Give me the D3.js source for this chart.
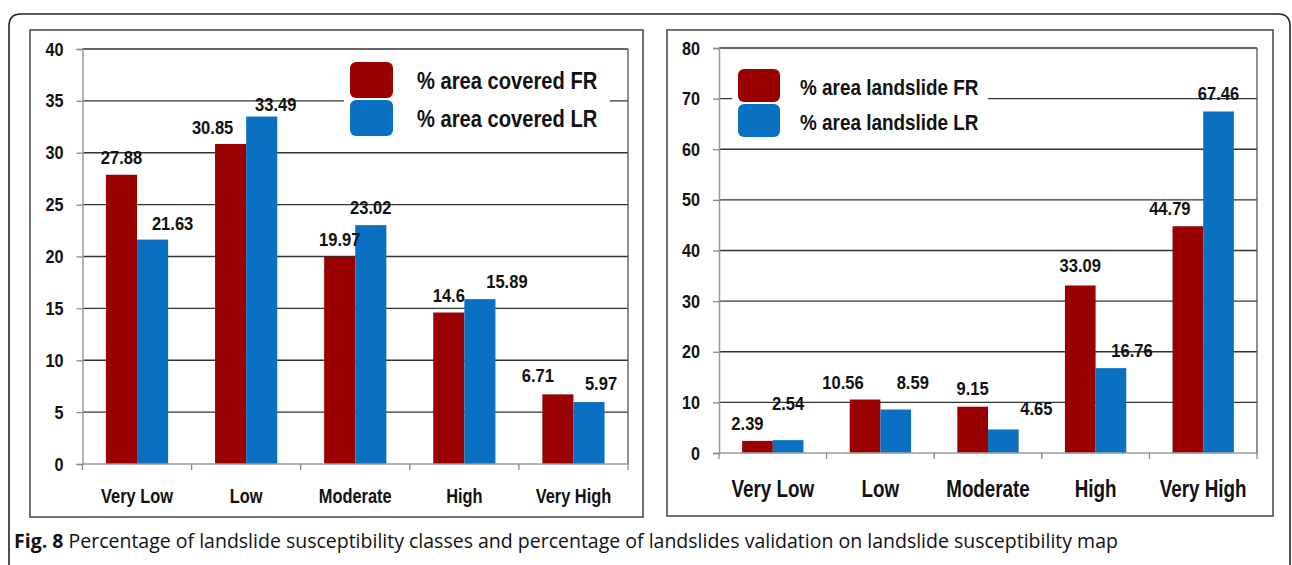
<!DOCTYPE html>
<html>
<head>
<meta charset="utf-8">
<script src="https://cdn.jsdelivr.net/npm/d3@7"></script>
<style>
  body { margin: 0; background: #fff; }
  svg text { font-family: "Liberation Sans", Arial, sans-serif; fill: #111; }
</style>
</head>
<body>
<div id="chart"></div>
<script>
// data
var categories = ["Very Low", "Low", "Moderate", "High", "Very High"];
var coveredFR = [27.88, 30.85, 19.97, 14.6, 6.71];
var coveredLR = [21.63, 33.49, 23.02, 15.89, 5.97];
var landslideFR = [2.39, 10.56, 9.15, 33.09, 44.79];
var landslideLR = [2.54, 8.59, 4.65, 16.76, 67.46];
var coveredTicks = [0, 5, 10, 15, 20, 25, 30, 35, 40];
var landslideTicks = [0, 10, 20, 30, 40, 50, 60, 70, 80];
var coveredLegend = ["% area covered FR", "% area covered LR"];
var landslideLegend = ["% area landslide FR", "% area landslide LR"];
var captionBold = "Fig. 8";
var captionText = " Percentage of landslide susceptibility classes and percentage of landslides validation on landslide susceptibility map";

var colors = ["#9a0000", "#0a70c2"];

var W = 1292, H = 565;
var svg = d3.select("#chart").append("svg")
    .attr("width", W)
    .attr("height", H);

// outer figure frame, open at the bottom
svg.append("path")
    .attr("d", "M9,600 L9,26 Q9,14 21,14 L1278,14 Q1290,14 1290,26 L1290,600")
    .attr("fill", "none")
    .attr("stroke", "#222")
    .attr("stroke-width", 1.6);

// horizontally squeezed bold text (the original uses a narrow face)
function squeezed(g, x, y, txt, size, sx, anchor) {
  return g.append("text")
      .attr("transform", "translate(" + x + "," + y + ") scale(" + sx + ",1)")
      .attr("text-anchor", anchor || "middle")
      .attr("font-size", size)
      .attr("font-weight", "bold")
      .text(txt);
}

function drawPanel(p) {
  var g = svg.append("g");

  // panel box
  g.append("rect")
      .attr("x", p.box[0]).attr("y", p.box[1])
      .attr("width", p.box[2] - p.box[0]).attr("height", p.box[3] - p.box[1])
      .attr("fill", "#fff")
      .attr("stroke", "#444")
      .attr("stroke-width", 1.5);

  var x0 = d3.scaleBand()
      .domain(categories)
      .range([p.left, p.right])
      .paddingInner(0.43)
      .paddingOuter(0.215);
  var x1 = d3.scaleBand()
      .domain([0, 1])
      .range([0, x0.bandwidth()]);
  var y = d3.scaleLinear()
      .domain([0, d3.max(p.ticks)])
      .range([p.bottom, p.top]);

  // gridlines
  g.selectAll(".grid")
    .data(p.ticks.filter(function(d) { return d > 0; }))
    .enter().append("line")
      .attr("x1", p.left).attr("x2", p.right)
      .attr("y1", function(d) { return y(d); })
      .attr("y2", function(d) { return y(d); })
      .attr("stroke", "#333")
      .attr("stroke-width", 1.4);

  // right border of the plot area
  g.append("line")
      .attr("x1", p.right).attr("x2", p.right)
      .attr("y1", y(d3.max(p.ticks))).attr("y2", p.bottom)
      .attr("stroke", "#555")
      .attr("stroke-width", 1.3);

  // legend (white box hides the gridline behind it)
  var lg = g.append("g");
  lg.append("rect")
      .attr("x", p.legend.x - 6).attr("y", p.legend.y - 8)
      .attr("width", p.legend.w).attr("height", 2 * p.legend.step + 12)
      .attr("fill", "#fff");
  p.legendText.forEach(function(t, i) {
    lg.append("rect")
        .attr("x", p.legend.x)
        .attr("y", p.legend.y + i * p.legend.step)
        .attr("width", p.legend.sw).attr("height", p.legend.step - 2)
        .attr("rx", 6).attr("ry", 6)
        .attr("fill", colors[i]);
    squeezed(lg, p.legend.tx, p.legend.y + i * p.legend.step + p.legend.step / 2 + 8,
             t, p.legend.font, 0.84, "start");
  });

  // bars
  var series = [p.fr, p.lr];
  series.forEach(function(vals, s) {
    g.selectAll(".bar" + s)
      .data(vals)
      .enter().append("rect")
        .attr("x", function(d, i) { return x0(categories[i]) + x1(s); })
        .attr("y", function(d) { return y(d); })
        .attr("width", x1.bandwidth())
        .attr("height", function(d) { return p.bottom - y(d); })
        .attr("fill", colors[s]);
  });

  // value labels (hand placed in the original, so nudged a bit)
  series.forEach(function(vals, s) {
    vals.forEach(function(d, i) {
      squeezed(g,
          x0(categories[i]) + x1(s) + x1.bandwidth() / 2 + p.nudge[s][0][i],
          y(d) - p.nudge[s][1][i],
          d, 18, 0.92, "middle");
    });
  });

  // y axis
  var yAxis = g.append("g")
      .attr("transform", "translate(" + p.left + ",0)")
      .call(d3.axisLeft(y).tickValues(p.ticks).tickSize(6).tickPadding(14));
  yAxis.select(".domain").attr("stroke", "#9a9a9a").attr("stroke-width", 1.5);
  yAxis.selectAll(".tick line").attr("stroke", "#888").attr("stroke-width", 1.3);
  yAxis.selectAll(".tick text").remove();
  p.ticks.forEach(function(t) {
    squeezed(g, p.left - 19, y(t) + 6.5, t, 18, 0.9, "end");
  });

  // x axis line with ticks at category boundaries
  g.append("line")
      .attr("x1", p.left).attr("x2", p.right)
      .attr("y1", p.bottom).attr("y2", p.bottom)
      .attr("stroke", "#9a9a9a").attr("stroke-width", 1.5);
  g.selectAll(".xtick")
    .data(d3.range(categories.length + 1))
    .enter().append("line")
      .attr("x1", function(i) { return p.left + i * x0.step(); })
      .attr("x2", function(i) { return p.left + i * x0.step(); })
      .attr("y1", p.bottom).attr("y2", p.bottom + 6)
      .attr("stroke", "#888").attr("stroke-width", 1.3);

  categories.forEach(function(c) {
    squeezed(g, x0(c) + x0.bandwidth() / 2, p.catY, c, p.catFont, p.catSx, "middle");
  });
}

drawPanel({
  box: [30, 30, 643, 517],
  left: 82.5, right: 628, top: 49, bottom: 464,
  ticks: coveredTicks,
  fr: coveredFR, lr: coveredLR,
  legendText: coveredLegend,
  legend: {x: 350, y: 62, step: 38, sw: 43, tx: 417, w: 266, font: 24},
  catY: 503, catFont: 21, catSx: 0.78,
  nudge: [
    [[0, -18, 0, 0, -20], [11, 10, 11, 11, 12]],
    [[20, 14, 0, 27, 12], [10, 6, 11, 11, 12]]
  ]
});

drawPanel({
  box: [667, 30, 1273, 516],
  left: 719, right: 1257, top: 48, bottom: 453,
  ticks: landslideTicks,
  fr: landslideFR, lr: landslideLR,
  legendText: landslideLegend,
  legend: {x: 738, y: 69, step: 35, sw: 42, tx: 800, w: 256, font: 22.5},
  catY: 497, catFont: 23.5, catSx: 0.8,
  nudge: [
    [[-10, -22, 0, 0, -18], [11, 11, 12, 13, 11]],
    [[0, 17, 33, 21, 0], [30, 21, 14, 11, 11]]
  ]
});

// caption
var cap = svg.append("text")
    .attr("x", 14).attr("y", 548)
    .attr("font-size", 19.5)
    .style("font-family", "'Open Sans', 'Noto Sans', sans-serif")
    .attr("fill", "#222");
cap.append("tspan").attr("font-weight", "bold").text(captionBold);
cap.append("tspan").text(captionText);
</script>
</body>
</html>
